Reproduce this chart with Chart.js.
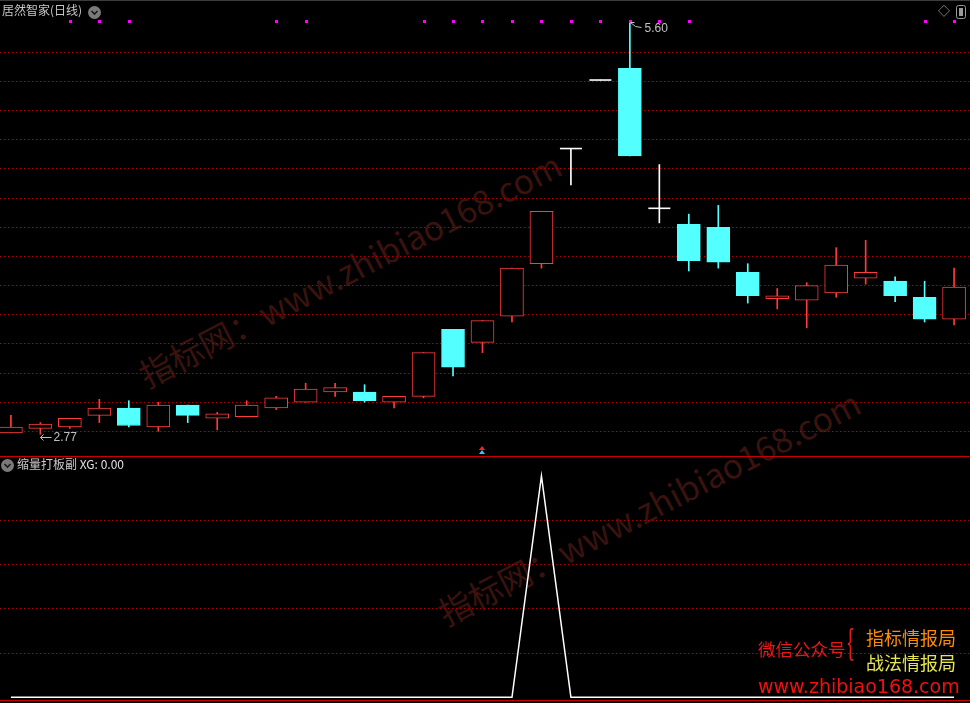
<!DOCTYPE html>
<html>
<head>
<meta charset="utf-8">
<script src="https://cdn.jsdelivr.net/npm/chart.js@4.4.0/dist/chart.umd.min.js"></script>
<style>
html, body { margin: 0; padding: 0; background: #000; width: 970px; height: 703px; overflow: hidden; }
#wrap { position: relative; width: 970px; height: 703px; font-family: "Noto Sans CJK SC", "Noto Sans", sans-serif; }
.abs { position: absolute; white-space: nowrap; line-height: 1; }
canvas { position: absolute; left: 0; }
.wm { position: absolute; white-space: nowrap; font-size: 33.5px; line-height: 34px; color: #3a120e; transform-origin: 0 32px; transform: rotate(-27.3deg); }
.hr { position: absolute; left: 0; width: 970px; height: 1px; }
</style>
</head>
<body>
<div id="wrap">
  <div class="wm" style="left:148px; top:358px;">指标网：www.zhibiao168.com</div>
  <div class="wm" style="left:447px; top:596px;">指标网：www.zhibiao168.com</div>

  <canvas id="kline" width="970" height="457" style="top:0"></canvas>
  <canvas id="xg" width="970" height="246" style="top:457px"></canvas>

  <div class="hr" style="top:0; background:#3c3c3c;"></div>
  <div class="hr" style="top:456px; background:#c80000;"></div>
  <div class="hr" style="top:700px; background:#c80000;"></div>

  <div class="abs" style="left:2px; top:4px; font-size:12px; color:#c8c8c8;">居然智家(日线)</div>
  <svg class="abs" style="left:88px; top:6px;" width="13" height="13"><circle cx="6.5" cy="6.5" r="6.5" fill="#7a7a7a"/><path d="M3.5 5 L6.5 8 L9.5 5" stroke="#1a1a1a" stroke-width="1.6" fill="none"/></svg>
  <div class="abs" style="left:938px; top:5px; font-size:12px; color:#9a9a9a;">◇</div>
  <svg class="abs" style="left:956px; top:5px;" width="10" height="14"><rect x="0.5" y="0.5" width="9" height="13" rx="2" fill="none" stroke="#9a9a9a"/><rect x="3" y="3" width="4" height="8" fill="#9a9a9a"/></svg>

  <svg class="abs" style="left:1px; top:459px;" width="13" height="13"><circle cx="6.5" cy="6.5" r="6.5" fill="#7a7a7a"/><path d="M3.5 5 L6.5 8 L9.5 5" stroke="#1a1a1a" stroke-width="1.6" fill="none"/></svg>
  <div class="abs" style="left:17px; top:458px; font-size:12px; color:#c8c8c8;">缩量打板副&nbsp;<span style="color:#e0e0e0">XG: 0.00</span></div>

  <div class="abs" style="left:758px; top:640px; font-size:17.5px; color:#e81818;">微信公众号</div>
  <div class="abs" style="left:847px; top:624px; font-size:34px; color:#e81818; transform:scaleX(0.6); transform-origin:0 0;">{</div>
  <div class="abs" style="left:866px; top:628px; font-size:18px; color:#ff8c00;">指标情报局</div>
  <div class="abs" style="left:866px; top:653px; font-size:18px; color:#e6e650;">战法情报局</div>
  <div class="abs" style="left:758px; top:677px; font-size:19px; color:#f01010; font-family:'DejaVu Sans', sans-serif;">www.zhibiao168.com</div>
</div>

<script>
// daily candles, oldest first
const openP  = [2.78, 2.81, 2.82, 2.90, 2.95, 2.82, 2.97, 2.88, 2.89, 2.95, 2.99, 3.06, 3.06, 2.99, 3.03, 3.49, 3.40, 3.58, 3.94, 4.73, 5.20, 5.28, 4.32, 4.21, 4.19, 3.88, 3.70, 3.69, 3.74, 3.84, 3.82, 3.71, 3.56];
const closeP = [2.82, 2.84, 2.88, 2.95, 2.83, 2.97, 2.90, 2.91, 2.97, 3.02, 3.08, 3.09, 3.00, 3.03, 3.33, 3.23, 3.55, 3.91, 4.30, 4.73, 5.20, 4.68, 4.32, 3.96, 3.95, 3.72, 3.72, 3.79, 3.93, 3.88, 3.72, 3.56, 3.78];
const highP  = [2.90, 2.85, 2.88, 3.01, 3.00, 2.99, 2.97, 2.92, 3.00, 3.03, 3.12, 3.12, 3.11, 3.03, 3.33, 3.49, 3.55, 3.91, 4.30, 4.73, 5.20, 5.60, 4.62, 4.28, 4.34, 3.94, 3.77, 3.81, 4.05, 4.10, 3.85, 3.82, 3.91];
const lowP   = [2.78, 2.77, 2.81, 2.85, 2.82, 2.79, 2.85, 2.80, 2.89, 2.94, 2.99, 3.03, 2.99, 2.95, 3.02, 3.17, 3.33, 3.54, 3.91, 4.48, 5.20, 4.68, 4.22, 3.89, 3.91, 3.67, 3.63, 3.50, 3.71, 3.80, 3.68, 3.54, 3.52];
// magenta signal dots on top row
const signalFlag = [0, 0, 1, 1, 1, 0, 0, 0, 0, 1, 1, 0, 0, 0, 1, 1, 1, 1, 1, 1, 1, 1, 1, 1, 0, 0, 0, 0, 0, 0, 0, 1, 1];
// 缩量打板副 XG
const xgValues = [0, 0, 0, 0, 0, 0, 0, 0, 0, 0, 0, 0, 0, 0, 0, 0, 0, 0, 1, 0, 0, 0, 0, 0, 0, 0, 0, 0, 0, 0, 0, 0, 0];
const priceGrid = [2.79, 2.99, 3.19, 3.39, 3.59, 3.79, 3.99, 4.19, 4.39, 4.59, 4.79, 4.99, 5.19, 5.39];
const xgGrid = [0.2, 0.4, 0.6, 0.8];
const markIndex = 16;

const UP = '#ff3c3c';
const DOWN = '#54ffff';
const GRID = '#b00000';
const X_MIN = -0.37, X_MAX = 32.54;

const idx = openP.map((_, i) => i);
const isDoji = i => openP[i] === closeP[i];
const isUp = i => closeP[i] > openP[i];
const colorOf = i => isDoji(i) ? '#ffffff' : (isUp(i) ? UP : DOWN);
const bodyIdx = idx.filter(i => !isDoji(i));

const fmt = v => v.toFixed(2);

const kAnnot = {
  id: 'kAnnot',
  afterDatasetsDraw(chart) {
    const ctx = chart.ctx, xs = chart.scales.x, ys = chart.scales.y;
    ctx.save();
    // signal dots
    ctx.fillStyle = '#ff00ff';
    signalFlag.forEach((f, i) => {
      if (f) ctx.fillRect(Math.round(xs.getPixelForValue(i)) - 1, 20, 3, 3);
    });
    ctx.font = '12px "Liberation Sans", sans-serif';
    ctx.fillStyle = '#c0c0c0';
    ctx.strokeStyle = '#c0c0c0';
    ctx.lineWidth = 1;
    // highest high
    const hi = highP.indexOf(Math.max(...highP));
    let x = Math.round(xs.getPixelForValue(hi)) + 0.5, y = Math.round(ys.getPixelForValue(highP[hi])) + 0.5;
    ctx.beginPath();
    ctx.moveTo(x, y); ctx.lineTo(x + 4, y);
    ctx.moveTo(x, y); ctx.lineTo(x + 5, y + 4);
    ctx.lineTo(x + 11, y + 5);
    ctx.stroke();
    ctx.textBaseline = 'middle';
    ctx.fillText(fmt(highP[hi]), x + 14, y + 6);
    // lowest low
    const lo = lowP.indexOf(Math.min(...lowP));
    x = Math.round(xs.getPixelForValue(lo)) + 0.5; y = Math.round(ys.getPixelForValue(lowP[lo])) + 3.5;
    ctx.beginPath();
    ctx.moveTo(x, y); ctx.lineTo(x + 11, y);
    ctx.moveTo(x, y); ctx.lineTo(x + 3, y - 3);
    ctx.moveTo(x, y); ctx.lineTo(x + 3, y + 3);
    ctx.stroke();
    ctx.fillText(fmt(lowP[lo]), x + 13, y);
    // small marker at bottom
    const mx = Math.round(xs.getPixelForValue(markIndex));
    ctx.fillStyle = '#ff2020';
    ctx.beginPath(); ctx.moveTo(mx - 3, 450); ctx.lineTo(mx, 446); ctx.lineTo(mx + 3, 450); ctx.closePath(); ctx.fill();
    ctx.fillStyle = '#40c0ff';
    ctx.beginPath(); ctx.moveTo(mx - 3, 454); ctx.lineTo(mx, 450); ctx.lineTo(mx + 3, 454); ctx.closePath(); ctx.fill();
    ctx.restore();
  }
};

const common = {
  responsive: false,
  maintainAspectRatio: false,
  animation: false,
  layout: { padding: 0, autoPadding: false },
  plugins: { legend: { display: false }, tooltip: { enabled: false } }
};

new Chart(document.getElementById('kline').getContext('2d'), {
  type: 'bar',
  data: {
    datasets: [
      {
        label: 'body',
        data: bodyIdx.map(i => ({ x: i, y: [Math.min(openP[i], closeP[i]), Math.max(openP[i], closeP[i])] })),
        backgroundColor: bodyIdx.map(i => isUp(i) ? '#000000' : DOWN),
        borderColor: bodyIdx.map(colorOf),
        borderWidth: 1,
        borderSkipped: false,
        barThickness: 23,
        grouped: false,
        order: 0
      },
      {
        type: 'line',
        label: 'flat',
        data: idx.filter(isDoji).map(i => ({ x: i, y: openP[i] })),
        showLine: false,
        pointStyle: 'line',
        pointRadius: 11,
        pointBorderWidth: 1.6,
        pointBorderColor: '#ffffff',
        borderColor: '#ffffff',
        order: 1
      },
      {
        label: 'wick',
        data: idx.map(i => ({ x: i, y: [lowP[i], highP[i]] })),
        backgroundColor: idx.map(colorOf),
        borderWidth: 0,
        barThickness: 1,
        grouped: false,
        order: 2
      }
    ]
  },
  options: {
    ...common,
    scales: {
      x: { type: 'linear', min: X_MIN, max: X_MAX, offset: false, display: false },
      y: {
        min: 2.614, max: 5.749,
        afterBuildTicks: s => { s.ticks = priceGrid.map(v => ({ value: v })); },
        ticks: { display: false },
        grid: { color: GRID, lineWidth: 1, drawTicks: false },
        border: { display: false, dash: [1, 3] }
      }
    }
  },
  plugins: [kAnnot]
});

new Chart(document.getElementById('xg').getContext('2d'), {
  type: 'line',
  data: {
    datasets: [{
      label: 'XG',
      data: idx.map(i => ({ x: i, y: xgValues[i] })),
      borderColor: '#ffffff',
      borderWidth: 1.5,
      pointRadius: 0,
      tension: 0
    }]
  },
  options: {
    ...common,
    scales: {
      x: { type: 'linear', min: X_MIN, max: X_MAX, offset: false, display: false },
      y: {
        min: -0.026, max: 1.086,
        afterBuildTicks: s => { s.ticks = xgGrid.map(v => ({ value: v })); },
        ticks: { display: false },
        grid: { color: GRID, lineWidth: 1, drawTicks: false },
        border: { display: false, dash: [1, 3] }
      }
    }
  }
});
</script>
</body>
</html>
